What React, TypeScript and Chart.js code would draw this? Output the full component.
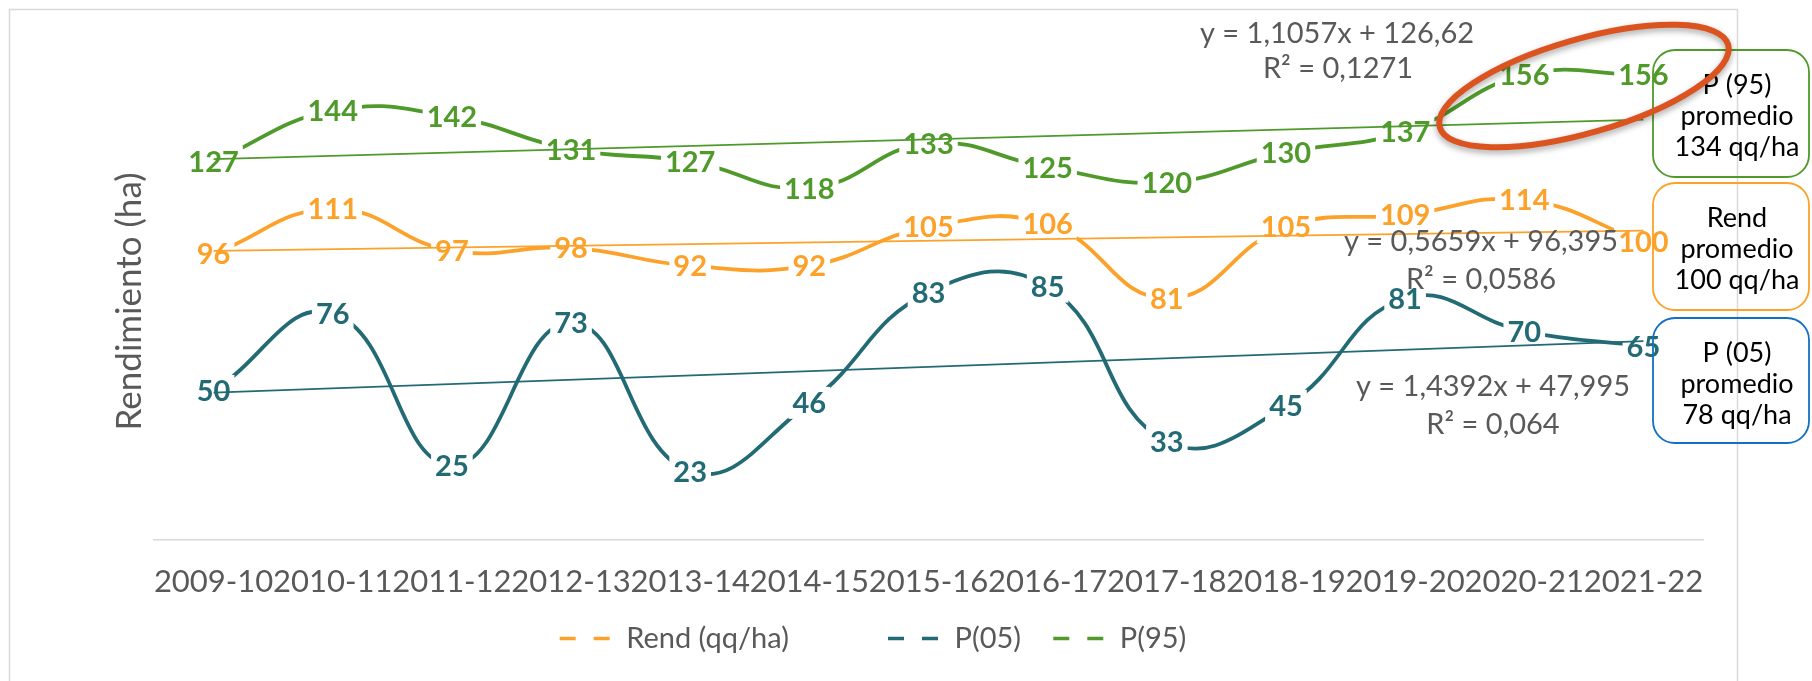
import React, { useEffect, useRef } from 'react';
import { Chart, registerables } from 'chart.js';

Chart.register(...registerables);

const categories = ['2009-10', '2010-11', '2011-12', '2012-13', '2013-14', '2014-15', '2015-16', '2016-17', '2017-18', '2018-19', '2019-20', '2020-21', '2021-22'];
const rendValues = [96, 111, 97, 98, 92, 92, 105, 106, 81, 105, 109, 114, 100];
const p05Values = [50, 76, 25, 73, 23, 46, 83, 85, 33, 45, 81, 70, 65];
const p95Values = [127, 144, 142, 131, 127, 118, 133, 125, 120, 130, 137, 156, 156];
const seriesNames = ['Rend (qq/ha)', 'P(05)', 'P(95)'];

// trendline coefficients (slope, intercept) as printed on the chart
const trendRend = [0.5659, 96.395];
const trendP05 = [1.4392, 47.995];
const trendP95 = [1.1057, 126.62];
const trendTexts = [
  ['y = 0,5659x + 96,395', 'R² = 0,0586'],
  ['y = 1,4392x + 47,995', 'R² = 0,064'],
  ['y = 1,1057x + 126,62', 'R² = 0,1271'],
];
const boxTexts = [
  ['P (95)', 'promedio', '134 qq/ha'],
  ['Rend', 'promedio', '100 qq/ha'],
  ['P (05)', 'promedio', '78 qq/ha'],
];

const GREEN = '#4f9a2a';
const ORANGE = '#fca22b';
const TEAL = '#226a74';
const BLUE = '#1270c4';
const GREY = '#595959';
const FONT = "Lato, 'Open Sans', sans-serif";

const trendLine = (coef: number[]) =>
  categories.map((_, i) => (i === 0 || i === categories.length - 1 ? coef[1] + coef[0] * (i + 1) : null));

const seriesColors = [ORANGE, TEAL, GREEN];

const decorPlugin = {
  id: 'decor',
  beforeDraw(chart: any) {
    const ctx = chart.ctx;
    ctx.save();
    ctx.fillStyle = '#fff';
    ctx.fillRect(0, 0, chart.width, chart.height);
    ctx.strokeStyle = '#d9d9d9';
    ctx.lineWidth = 1.5;
    ctx.beginPath();
    ctx.moveTo(9.5, 700);
    ctx.lineTo(9.5, 9.5);
    ctx.lineTo(1737.5, 9.5);
    ctx.lineTo(1737.5, 700);
    ctx.stroke();
    ctx.restore();
  },
  afterDatasetDraw(chart: any, args: any) {
    if (args.index !== 0) return;
    const ctx = chart.ctx;
    ctx.save();
    ctx.font = `bold 29px ${FONT}`;
    ctx.textAlign = 'center';
    ctx.textBaseline = 'middle';
    const sets = [rendValues, p05Values, p95Values];
    sets.forEach((vals, si) => {
      const meta = chart.getDatasetMeta(si);
      meta.data.forEach((pt: any, j: number) => {
        const txt = String(vals[j]);
        const w = ctx.measureText(txt).width;
        ctx.fillStyle = '#fff';
        ctx.fillRect(pt.x - w / 2 - 4, pt.y - 16, w + 8, 32);
        ctx.fillStyle = seriesColors[si];
        ctx.fillText(txt, pt.x, pt.y + 1);
      });
    });
    ctx.restore();
  },
  afterDraw(chart: any) {
    const ctx = chart.ctx;
    ctx.save();
    // trendline equations
    ctx.font = `29px ${FONT}`;
    ctx.fillStyle = GREY;
    ctx.textAlign = 'center';
    ctx.textBaseline = 'middle';
    const eqPos = [
      [[1481, 242], [1481, 280]],
      [[1493, 387], [1493, 425]],
      [[1337, 34], [1338, 69]],
    ];
    trendTexts.forEach((lines, i) => {
      lines.forEach((t, k) => ctx.fillText(t, eqPos[i][k][0], eqPos[i][k][1]));
    });
    // average boxes
    const boxes = [
      { y: 50, h: 127, c: GREEN },
      { y: 183, h: 127, c: ORANGE },
      { y: 318, h: 125, c: BLUE },
    ];
    boxes.forEach((b, i) => {
      ctx.strokeStyle = b.c;
      ctx.lineWidth = 1.8;
      ctx.beginPath();
      (ctx as any).roundRect(1653, b.y, 156, b.h, 22);
      ctx.stroke();
      ctx.fillStyle = '#000';
      ctx.font = `27px ${FONT}`;
      boxTexts[i].forEach((t, k) => ctx.fillText(t, 1737, b.y + 35 + k * 31));
    });
    // highlight ellipse
    ctx.strokeStyle = '#db5420';
    ctx.lineWidth = 6;
    ctx.shadowColor = 'rgba(0,0,0,0.35)';
    ctx.shadowBlur = 6;
    ctx.shadowOffsetY = 3;
    ctx.beginPath();
    ctx.ellipse(1584, 86, 150, 47, (-16 * Math.PI) / 180, 0, Math.PI * 2);
    ctx.stroke();
    ctx.restore();
  },
};

export default function App() {
  const ref = useRef<HTMLCanvasElement>(null);
  useEffect(() => {
    const canvas = ref.current!;
    const series = (label: string, data: number[], color: string) => ({
      label,
      data,
      borderColor: color,
      backgroundColor: color,
      borderWidth: 3.8,
      tension: 0.45,
      pointRadius: 0,
      fill: false,
      clip: false as any,
      order: 1,
    });
    const trend = (data: (number | null)[], color: string) => ({
      label: 'trend',
      data,
      borderColor: color,
      backgroundColor: color,
      borderWidth: 1.8,
      tension: 0,
      pointRadius: 0,
      spanGaps: true,
      fill: false,
      clip: false as any,
      order: 0,
    });
    const chart = new Chart(canvas, {
      type: 'line',
      data: {
        labels: categories,
        datasets: [
          series(seriesNames[0], rendValues, ORANGE),
          series(seriesNames[1], p05Values, TEAL),
          series(seriesNames[2], p95Values, GREEN),
          trend(trendLine(trendRend), ORANGE),
          trend(trendLine(trendP05), TEAL),
          trend(trendLine(trendP95), GREEN),
        ] as any,
      },
      options: {
        responsive: false,
        animation: false,
        devicePixelRatio: 1,
        layout: { padding: { left: 43, right: 109, top: 63, bottom: 18 } },
        scales: {
          x: {
            offset: true,
            grid: { display: false, drawTicks: false },
            border: { display: true, color: '#d9d9d9', width: 1.5 },
            ticks: {
              autoSkip: false,
              maxRotation: 0,
              minRotation: 0,
              padding: 23,
              color: GREY,
              font: { family: FONT, size: 31 },
            },
            afterFit: (s: any) => {
              s.height = 74;
            },
          },
          y: {
            min: 0,
            max: 160,
            grid: { display: false, drawTicks: false },
            border: { display: false },
            ticks: { display: false },
            title: {
              display: true,
              text: 'Rendimiento (ha)',
              color: GREY,
              font: { family: FONT, size: 35 },
              padding: { top: 66, bottom: 0 },
            },
            afterFit: (s: any) => {
              s.width = 111;
            },
          },
        },
        plugins: {
          tooltip: { enabled: false },
          legend: {
            position: 'bottom',
            labels: {
              usePointStyle: true,
              pointStyleWidth: 52,
              padding: 10,
              color: GREY,
              font: { family: FONT, size: 29 },
              generateLabels: () =>
                [0, 1, 2].map((i) => ({
                  text: seriesNames[i] + (i === 0 ? ' '.repeat(12) : i === 1 ? ' '.repeat(3) : ''),
                  fillStyle: seriesColors[i],
                  strokeStyle: seriesColors[i],
                  lineWidth: 3.5,
                  lineDash: [16, 18],
                  lineCap: 'butt',
                  pointStyle: 'line',
                  hidden: false,
                  datasetIndex: i,
                  fontColor: GREY,
                })) as any,
            },
          },
        },
      } as any,
      plugins: [decorPlugin],
    });
    return () => chart.destroy();
  }, []);
  return (
    <div style={{ position: 'absolute', left: 0, top: 0 }}>
      <canvas ref={ref} width={1812} height={681} style={{ display: 'block' }} />
    </div>
  );
}
